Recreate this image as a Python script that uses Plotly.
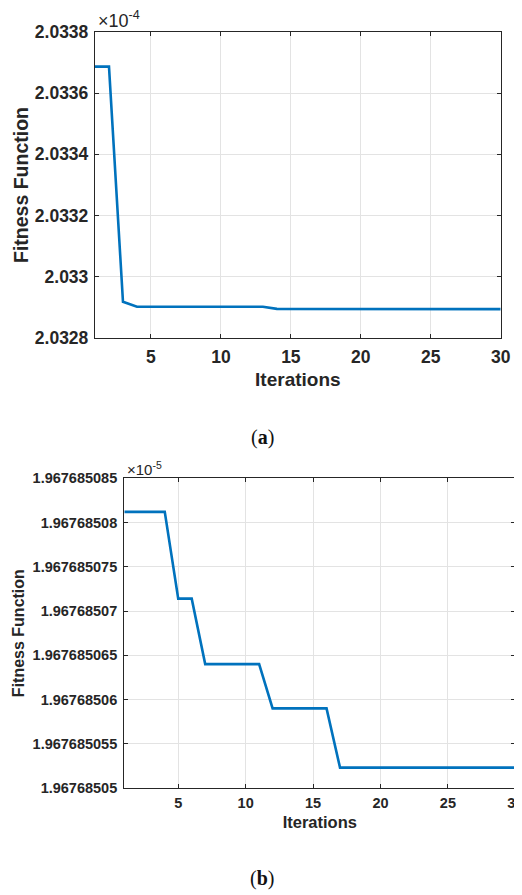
import plotly.graph_objects as go

# ---------------- data ----------------
iters = list(range(1, 31))

# panel (a): fitness values in units of 1e-4
fitness_a = [2.033686, 2.033686, 2.032919, 2.032903, 2.032903, 2.032903, 2.032903,
             2.032903, 2.032903, 2.032903, 2.032903, 2.032903, 2.032903, 2.032896,
             2.032896, 2.032896, 2.032896, 2.032896, 2.032896, 2.032896, 2.032896,
             2.032896, 2.032896, 2.032896, 2.032896, 2.032896, 2.032896, 2.032895,
             2.032895, 2.032895]
yticks_a = [2.0328, 2.0330, 2.0332, 2.0334, 2.0336, 2.0338]
yticklabels_a = ["2.0328", "2.033", "2.0332", "2.0334", "2.0336", "2.0338"]

# panel (b): fitness values in units of 1e-5
fitness_b = [1.9676850812, 1.9676850812, 1.9676850812, 1.9676850812,
             1.9676850714, 1.9676850714,
             1.9676850640, 1.9676850640, 1.9676850640, 1.9676850640, 1.9676850640,
             1.9676850590, 1.9676850590, 1.9676850590, 1.9676850590, 1.9676850590,
             1.9676850523, 1.9676850523, 1.9676850523, 1.9676850523, 1.9676850523,
             1.9676850523, 1.9676850523, 1.9676850523, 1.9676850523, 1.9676850523,
             1.9676850523, 1.9676850523, 1.9676850523, 1.9676850523]
yticks_b = [1.96768505, 1.967685055, 1.96768506, 1.967685065,
            1.96768507, 1.967685075, 1.96768508, 1.967685085]
yticklabels_b = ["1.96768505", "1.967685055", "1.96768506", "1.967685065",
                 "1.96768507", "1.967685075", "1.96768508", "1.967685085"]

xticks = [5, 10, 15, 20, 25, 30]

# ---------------- styling ----------------
OFF = 8                      # page body margin
W, H = 522 - OFF, 895 - OFF
LINE = "#0072BD"
INK = "#262626"
GRID = "#e3e3e3"
SANS = "Liberation Sans, Arial, sans-serif"
SERIF = "Liberation Serif, DejaVu Serif, serif"

def px(x):
    return (x - OFF) / W

def py(y):
    return 1 - (y - OFF) / H

fig = go.Figure()
fig.add_trace(go.Scatter(x=iters, y=fitness_a, mode="lines",
                         line=dict(color=LINE, width=2.6), xaxis="x", yaxis="y",
                         showlegend=False))
fig.add_trace(go.Scatter(x=iters, y=fitness_b, mode="lines",
                         line=dict(color=LINE, width=2.6), xaxis="x2", yaxis="y2",
                         showlegend=False))

def xa(dom, anchor, fsize, tsize, standoff, lstand):
    return dict(domain=dom, anchor=anchor, range=[1, 30], tickvals=xticks,
                automargin=False, ticklabeloverflow="allow",
                ticks="inside", ticklen=4, tickcolor=INK, tickwidth=1,
                showline=True, linecolor=INK, linewidth=1.3, mirror="ticks",
                showgrid=True, gridcolor=GRID, gridwidth=1, zeroline=False,
                ticklabelstandoff=lstand,
                tickfont=dict(family=SANS, size=fsize, color=INK, weight="bold"),
                title=dict(text="<b>Iterations</b>", standoff=standoff,
                           font=dict(family=SANS, size=tsize, color=INK)))

def ya(dom, anchor, rng, tv, tt, fsize, tsize, standoff, lstand):
    return dict(domain=dom, anchor=anchor, range=rng, tickvals=tv, ticktext=tt,
                automargin=False, ticklabeloverflow="allow",
                ticks="inside", ticklen=4, tickcolor=INK, tickwidth=1,
                showline=True, linecolor=INK, linewidth=1.3, mirror="ticks",
                showgrid=True, gridcolor=GRID, gridwidth=1, zeroline=False,
                ticklabelstandoff=lstand,
                tickfont=dict(family=SANS, size=fsize, color=INK, weight="bold"),
                title=dict(text="<b>Fitness Function</b>", standoff=standoff,
                           font=dict(family=SANS, size=tsize, color=INK)))

xa_dom = [px(95), px(500.7)]
ya_dom = [py(338.3), py(31.7)]
xb_dom = [px(124.3), px(515.3)]
yb_dom = [py(788), py(478.3)]

fig.update_layout(
    width=W, height=H,
    margin=dict(l=0, r=0, t=0, b=0, autoexpand=False),
    paper_bgcolor="white", plot_bgcolor="white",
    xaxis=xa(xa_dom, "y", 17.5, 19, 6, 3),
    yaxis=ya(ya_dom, "x", [2.0328, 2.0338], yticks_a, yticklabels_a, 17.5, 19.5, 0, 2),
    xaxis2=xa(xb_dom, "y2", 14.5, 16.5, 6, 1),
    yaxis2=ya(yb_dom, "x2", [1.96768505, 1.967685085], yticks_b, yticklabels_b, 14.5, 16, 3, 3),
    annotations=[
        dict(text="×10<sup>-4</sup>", x=xa_dom[0], y=ya_dom[1], xref="paper", yref="paper",
             xanchor="left", yanchor="bottom", showarrow=False, xshift=1, yshift=-1,
             font=dict(family=SANS, size=18, color=INK)),
        dict(text="×10<sup>-5</sup>", x=xb_dom[0], y=yb_dom[1], xref="paper", yref="paper",
             xanchor="left", yanchor="bottom", showarrow=False, xshift=1, yshift=-2,
             font=dict(family=SANS, size=15, color=INK)),
        dict(text="(<b>a</b>)", x=px(262), y=py(437), xref="paper", yref="paper",
             xanchor="center", yanchor="middle", showarrow=False,
             font=dict(family=SERIF, size=20, color="#111111")),
        dict(text="(<b>b</b>)", x=px(262), y=py(878), xref="paper", yref="paper",
             xanchor="center", yanchor="middle", showarrow=False,
             font=dict(family=SERIF, size=20, color="#111111")),
    ],
)

fig.write_html("out.html")
